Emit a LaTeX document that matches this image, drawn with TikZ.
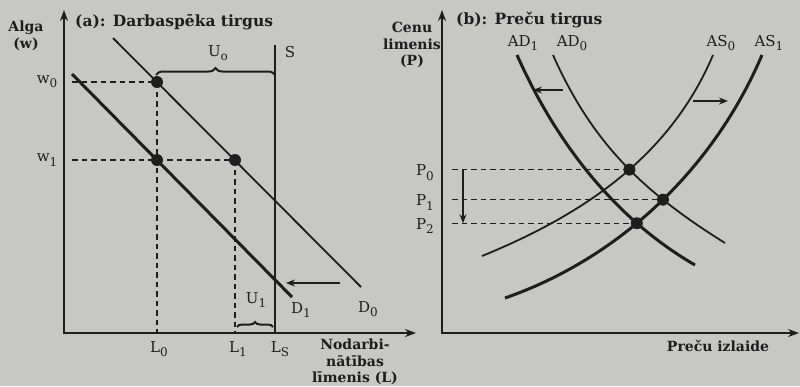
\documentclass[tikz,border=0pt]{standalone}
\usepackage{fontspec}
\setmainfont{DejaVu Serif}
\usetikzlibrary{decorations.pathreplacing,intersections,arrows.meta,calc}
\definecolor{paper}{RGB}{199,199,196}
\definecolor{ink}{RGB}{30,30,30}
\newcommand\sbx[1]{\raisebox{-0.55ex}{\fontsize{12}{12}\selectfont #1}}
\begin{document}
\begin{tikzpicture}[x=1pt,y=-1pt,
  thickln/.style={ink,line width=3pt},
  thinln/.style={ink,line width=1.8pt},
  axisln/.style={ink,line width=2.2pt,{Stealth[length=11pt,width=8pt]}-{Stealth[length=11pt,width=8pt]}},
  guide/.style={ink,line width=1.3pt,dash pattern=on 5.5pt off 4pt},
  dotn/.style={circle,fill=ink,inner sep=0pt,minimum size=12pt},
  lbl/.style={text=ink,font=\fontsize{15}{16}\selectfont,inner sep=1pt},
  blbl/.style={text=ink,font=\bfseries\fontsize{14}{16.5}\selectfont,align=center,inner sep=0pt},
  ttl/.style={text=ink,font=\bfseries\fontsize{15.5}{17}\selectfont,anchor=west,inner sep=0pt},
  shiftarr/.style={ink,line width=1.5pt,-{Stealth[length=9pt,width=7pt]}},
  brc/.style={ink,line width=2pt,decorate,decoration={brace,amplitude=#1}}
]
\fill[paper] (0,0) rectangle (800,386);
\useasboundingbox (0,0) rectangle (800,386);

% ---------------- panel (a) ----------------
\coordinate (a-top) at (64,10);
\coordinate (a-o) at (64,333);
\coordinate (a-right) at (416,333);
\draw[axisln] (a-top) -- (a-o) -- (a-right);

\node[blbl] (alga) at (26,36) {Alga\\(w)};
\node[ttl] (ttla) at (75,22) {(a): Darbaspēka tirgus};
\node[blbl] (nod) at (355,362) {Nodarbi-\\nātības\\līmenis (L)};

\coordinate (s-top) at (275,45);
\coordinate (s-bot) at (275,333);
\draw[thinln] (s-top) -- (s-bot);
\node[lbl] (slbl) at (290,52) {S};

\coordinate (d0a) at (113,38);
\coordinate (d0b) at (361,287);
\coordinate (d1a) at (72,74);
\coordinate (d1b) at (292,297);
\draw[thinln] (d0a) -- (d0b);
\draw[thickln] (d1a) -- (d1b);

\node[dotn] (w0d) at (157,82) {};
\node[dotn] (w1d) at (157,160) {};
\node[dotn] (l1d) at (235,160) {};
\coordinate (w0s) at (72,82);
\coordinate (w1s) at (72,160);
\coordinate (l0b) at (157,333);
\coordinate (l1b) at (235,333);
\draw[guide] (w0s) -- (w0d.center);
\draw[guide] (w1s) -- (l1d.center);
\draw[guide] (w0d.center) -- (l0b);
\draw[guide] (l1d.center) -- (l1b);

\node[lbl] (w0l) at (47,82) {w\sbx{0}};
\node[lbl] (w1l) at (47,160) {w\sbx{1}};
\node[lbl] (l0l) at (159,349) {L\sbx{0}};
\node[lbl] (l1l) at (238,349) {L\sbx{1}};
\node[lbl] (lsl) at (280,349) {L\sbx{S}};
\node[lbl] (d1l) at (301,310) {D\sbx{1}};
\node[lbl] (d0l) at (368,309) {D\sbx{0}};

\coordinate (u0a) at (156,75);
\coordinate (u0b) at (275,75);
\draw[brc=7pt] (u0a) -- (u0b);
\node[lbl] (u0l) at (218,53) {U\sbx{o}};
\coordinate (u1a) at (237,327);
\coordinate (u1b) at (273,327);
\draw[brc=5pt] (u1a) -- (u1b);
\node[lbl] (u1l) at (256,300) {U\sbx{1}};

\coordinate (arra) at (340,283);
\coordinate (arrb) at (286,283);
\draw[shiftarr] (arra) -- (arrb);

% ---------------- panel (b) ----------------
\coordinate (b-top) at (442,10);
\coordinate (b-o) at (442,333);
\coordinate (b-right) at (799,333);
\draw[axisln] (b-top) -- (b-o) -- (b-right);

\node[blbl] (cenu) at (412,45) {Cenu\\limenis\\(P)};
\node[ttl] (ttlb) at (456,20) {(b): Preču tirgus};
\node[blbl] (izl) at (718,346) {Preču izlaide};

\node[lbl] (ad1l) at (523,43) {AD\sbx{1}};
\node[lbl] (ad0l) at (572,43) {AD\sbx{0}};
\node[lbl] (as0l) at (721,43) {AS\sbx{0}};
\node[lbl] (as1l) at (769,43) {AS\sbx{1}};

\draw[thinln,name path=AD0] (553,55) .. controls (593,145) and (645,193) .. (725,243);
\draw[thickln,name path=AD1] (517,55) .. controls (557,145) and (617,220) .. (695,265);
\draw[thinln,name path=AS0] (482,256) .. controls (590,212) and (672,152) .. (713,55);
\draw[thickln,name path=AS1] (505,298) .. controls (620,258) and (714,168) .. (762,55);

\path[name intersections={of=AD0 and AS0,by=E0}];
\path[name intersections={of=AD0 and AS1,by=E1}];
\path[name intersections={of=AD1 and AS1,by=E2}];
\node[dotn] (e0) at (E0) {};
\node[dotn] (e1) at (E1) {};
\node[dotn] (e2) at (E2) {};

\coordinate (px) at (452,0);
\coordinate (plx) at (425,0);
\coordinate (vx) at (463,0);
\draw[guide] (px |- e0) -- (e0.center);
\draw[guide] (px |- e1) -- (e1.center);
\draw[guide] (px |- e2) -- (e2.center);
\node[lbl,yshift=-3pt] (p0l) at (plx |- e0) {P\sbx{0}};
\node[lbl,yshift=-3pt] (p1l) at (plx |- e1) {P\sbx{1}};
\node[lbl,yshift=-3pt] (p2l) at (plx |- e2) {P\sbx{2}};
\draw[shiftarr] (vx |- e0) -- (vx |- e2);

\coordinate (adarra) at (563,90);
\coordinate (adarrb) at (533,90);
\draw[shiftarr] (adarra) -- (adarrb);
\coordinate (asarra) at (693,101);
\coordinate (asarrb) at (728,101);
\draw[shiftarr] (asarra) -- (asarrb);
\end{tikzpicture}
\end{document}
